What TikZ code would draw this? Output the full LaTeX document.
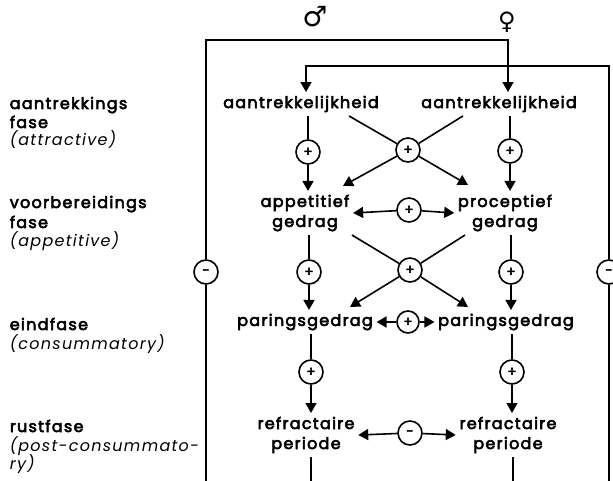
\documentclass[tikz,border=0pt]{standalone}
\usepackage{fontspec}
\setmainfont{Poppins}[LetterSpace=8, BoldFont={Poppins}, BoldFeatures={FakeBold=3.5}]
\newfontfamily\symfont{DejaVu Sans}
\usetikzlibrary{arrows.meta,calc}
\begin{document}
\begin{tikzpicture}[x=1pt,y=-1pt,line width=1.6pt,
  lbl/.style={font=\fontsize{16}{20}\selectfont\bfseries, align=center, inner sep=3pt},
  sgn/.style={circle, draw, minimum size=24pt, inner sep=0pt, font=\fontsize{13}{13}\selectfont\bfseries},
  arr/.style={-{Triangle[length=10pt,width=11pt]}},
  ph/.style={anchor=base west, inner sep=0pt, font=\fontsize{16}{18}\selectfont\bfseries},
  phi/.style={anchor=base west, inner sep=0pt, font=\fontsize{16}{18}\selectfont\itshape}]
\useasboundingbox (0,0) rectangle (613,481);

% sex symbols
\node[font=\symfont\bfseries\fontsize{28}{28}\selectfont] (male) at (315,17) {♂};
\node[font=\symfont\bfseries\fontsize{24}{24}\selectfont] (female) at (507,22) {♀};

% phase labels
\node[ph] (p1a) at (9,109) {aantrekkings};
\node[ph] (p1b) at (9,128) {fase};
\node[phi] (p1c) at (9,146) {(attractive)};
\node[ph] (p2a) at (9,208) {voorbereidings};
\node[ph] (p2b) at (9,228) {fase};
\node[phi] (p2c) at (9,247) {(appetitive)};
\node[ph] (p3a) at (9,330) {eindfase};
\node[phi] (p3b) at (9,349) {(consummatory)};
\node[ph] (p4a) at (9,432) {rustfase};
\node[phi] (p4b) at (9,451) {(post-consummato-};
\node[phi] (p4c) at (9,469) {ry)};

% behaviour nodes
\node[lbl] (aL) at (301,104) {aantrekkelijkheid};
\node[lbl] (aR) at (499,104) {aantrekkelijkheid};
\node[lbl] (apL) at (305,213) {appetitief\\gedrag};
\node[lbl] (prR) at (505,213) {proceptief\\gedrag};
\node[lbl] (paL) at (305,322) {paringsgedrag};
\node[lbl] (paR) at (506,322) {paringsgedrag};
\node[lbl] (rfL) at (306,435) {refractaire\\periode};
\node[lbl] (rfR) at (508,435) {refractaire\\periode};

% sign circles
\node[sgn] (cL1) at (308,152) {+};
\node[sgn] (cX1) at (408,150) {+};
\node[sgn] (cR1) at (510,151) {+};
\node[sgn] (cM1) at (409,210) {+};
\node[sgn] (cL2) at (309,272) {+};
\node[sgn] (cX2) at (410,270) {+};
\node[sgn] (cR2) at (511,272) {+};
\node[sgn,minimum size=22pt] (cM2) at (408,322) {+};
\node[sgn] (cL3) at (311,372) {+};
\node[sgn] (cR3) at (512,372) {+};
\node[sgn] (cM3) at (410,433) {-};
\node[sgn] (cLo) at (206,272) {-};
\node[sgn] (cRo) at (609,272) {-};

% loop coordinates
\coordinate (botLo) at (206,481);
\coordinate (botRo) at (609,481);
\coordinate (topLo) at (206,40);
\coordinate (topRo) at (609,66);
\coordinate (fem) at (508,40);
\coordinate (innL) at (306,66);
\coordinate (botL) at (311,481);
\coordinate (botR) at (513,481);

% feedback loops
\draw (botLo) -- (cLo);
\draw[arr] (cLo) -- (topLo) -- (fem) -- (fem |- aR.north);
\draw (botRo) -- (cRo);
\draw[arr] (cRo) -- (topRo) -- (innL) -- (innL |- aL.north);

% left column
\draw (aL.south -| cL1) -- (cL1);
\draw[arr] (cL1) -- (cL1 |- apL.north);
\draw (apL.south -| cL2) -- (cL2);
\draw[arr] (cL2) -- (cL2 |- paL.north);
\draw (paL.south -| cL3) -- (cL3);
\draw[arr] (cL3) -- (cL3 |- rfL.north);
\draw (rfL.south -| botL) -- (botL);

% right column
\draw (aR.south -| cR1) -- (cR1);
\draw[arr] (cR1) -- (cR1 |- prR.north);
\draw (prR.south -| cR2) -- (cR2);
\draw[arr] (cR2) -- (cR2 |- paR.north);
\draw (paR.south -| cR3) -- (cR3);
\draw[arr] (cR3) -- (cR3 |- rfR.north);
\draw (rfR.south -| botR) -- (botR);

% crossings
\draw ([xshift=48pt]aL.south) -- (cX1);
\draw ([xshift=-36pt]aR.south) -- (cX1);
\draw[arr] (cX1) -- ([xshift=38pt,yshift=5pt]apL.north);
\draw[arr] (cX1) -- ([xshift=-37pt,yshift=6pt]prR.north);
\draw ([xshift=47pt]apL.south) -- (cX2);
\draw ([xshift=-40pt]prR.south) -- (cX2);
\draw[arr] (cX2) -- ([xshift=45pt,yshift=3pt]paL.north);
\draw[arr] (cX2) -- ([xshift=-38pt,yshift=3pt]paR.north);

% horizontal interactions
\draw[arr] (cM1) -- (apL.east);
\draw[arr] (cM1) -- (prR.west);
\draw[arr] (cM2) -- (paL.east);
\draw[arr] (cM2) -- (paR.west);
\draw[arr] (cM3) -- (rfL.east);
\draw[arr] (cM3) -- (rfR.west);
\end{tikzpicture}
\end{document}
